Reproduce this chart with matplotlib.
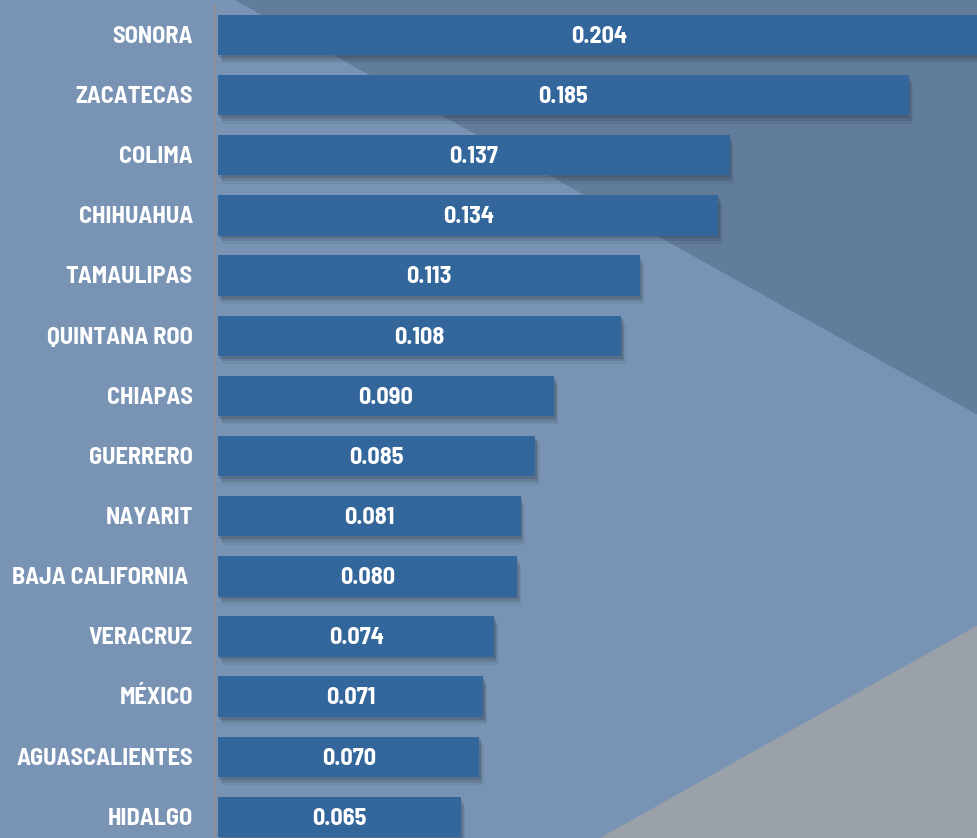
import matplotlib
matplotlib.use("Agg")
import matplotlib.pyplot as plt
from matplotlib.patches import Polygon
import matplotlib.patheffects as pe

states = ["SONORA", "ZACATECAS", "COLIMA", "CHIHUAHUA", "TAMAULIPAS", "QUINTANA ROO",
          "CHIAPAS", "GUERRERO", "NAYARIT", "BAJA CALIFORNIA ", "VERACRUZ", "MÉXICO",
          "AGUASCALIENTES", "HIDALGO"]
values = [0.204, 0.185, 0.137, 0.134, 0.113, 0.108, 0.090, 0.085, 0.081, 0.080,
          0.074, 0.071, 0.070, 0.065]
value_labels = ["0.204", "0.185", "0.137", "0.134", "0.113", "0.108", "0.090", "0.085",
                "0.081", "0.080", "0.074", "0.071", "0.070", "0.065"]

W, H = 978, 838
fig = plt.figure(figsize=(W / 100, H / 100), dpi=100)
fig.patch.set_facecolor("#7893b4")

bg = fig.add_axes([0, 0, 1, 1], zorder=-5)
bg.set_xlim(0, W)
bg.set_ylim(H, 0)
bg.axis("off")
bg.add_patch(Polygon([(235, 0), (W, 0), (W, 415)], closed=True, facecolor="#627d9b", edgecolor="none"))
bg.add_patch(Polygon([(600, H), (W, 625), (W, H)], closed=True, facecolor="#9aa1a9", edgecolor="none"))

ax = fig.add_axes([218 / W, 0, 1 - 218 / W, 1], zorder=1)
ax.set_facecolor("none")
ypos = list(range(len(states)))
bars = ax.barh(ypos, values, height=0.67, color="#33669a", zorder=3)
shadow = [pe.SimplePatchShadow(offset=(1, -2), shadow_rgbFace="#2a2f3a", alpha=0.2),
          pe.SimplePatchShadow(offset=(2, -4), shadow_rgbFace="#2a2f3a", alpha=0.15),
          pe.SimplePatchShadow(offset=(3, -6), shadow_rgbFace="#2a2f3a", alpha=0.08),
          pe.Normal()]
for b in bars:
    b.set_path_effects(shadow)

ax.set_xlim(0, 0.2035)
ax.set_ylim(13.35, -0.582)
ax.set_xticks([])
ax.set_yticks([])
for s in ["top", "right", "bottom"]:
    ax.spines[s].set_visible(False)
ax.spines["left"].set_color("#8a8f99")
ax.spines["left"].set_linewidth(1.5)
ax.spines["left"].set_position(("outward", 2))
ax.spines["left"].set_bounds(13.35, -0.5)

font = dict(family=["Barlow Semi Condensed", "DejaVu Sans"], weight="bold", size=17.5, color="white")
for i, (s, v, lab) in enumerate(zip(states, values, value_labels)):
    ax.text(-0.0067, i + 0.03, s, ha="right", va="center", **font)
    ax.text(v / 2, i + 0.03, lab, ha="center", va="center", zorder=5, **font)

fig.savefig("out.png", dpi=100, facecolor=fig.get_facecolor())
